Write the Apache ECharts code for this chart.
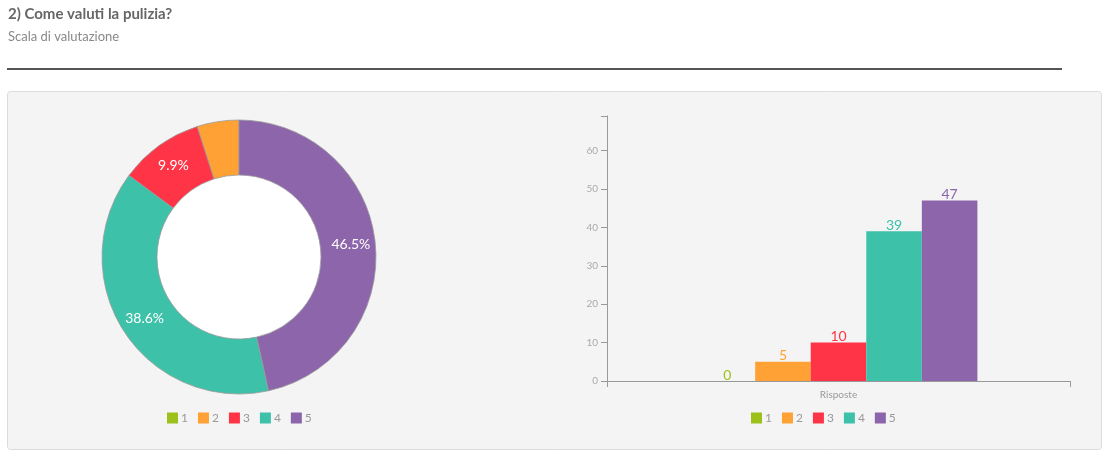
<!DOCTYPE html>
<html>
<head>
<meta charset="utf-8">
<script src="https://cdn.jsdelivr.net/npm/echarts@6/dist/echarts.min.js"></script>
<style>
html,body{margin:0;padding:0;background:#fff;}
#c{width:1120px;height:461px;}
</style>
</head>
<body>
<div id="c"></div>
<script>
const titleText = '2) Come valuti la pulizia?';
const subtitleText = 'Scala di valutazione';
const categories = ['1', '2', '3', '4', '5'];
const values = [0, 5, 10, 39, 47];
const colors = ['#9dc11b', '#ffa135', '#ff3547', '#3dc1a9', '#8d65aa'];
const barCategory = ['Risposte'];
const yMax = 69;

const FONT = 'Lato, "Open Sans", sans-serif';
const chart = echarts.init(document.getElementById('c'), null, {renderer: 'canvas'});

const pieData = categories.map((c, i) => ({name: c, value: values[i], itemStyle: {color: colors[i]}}));

const barSeries = categories.map((c, i) => ({
  name: c,
  type: 'bar',
  xAxisIndex: 0,
  yAxisIndex: 0,
  data: [values[i]],
  itemStyle: {color: colors[i]},
  barGap: '0%',
  barCategoryGap: '40%',
  label: {show: true, position: 'top', distance: -1, color: colors[i], fontSize: 14, fontFamily: FONT},
  emphasis: {disabled: true}
}));

const legendCommon = {
  data: categories, top: 407, itemWidth: 11, itemHeight: 11, itemGap: 10, icon: 'rect',
  textStyle: {fontSize: 12, color: '#999', fontFamily: FONT, padding: [0, 0, 0, -2]}
};

chart.setOption({
  animation: false,
  color: colors,
  textStyle: {fontFamily: FONT},
  title: {
    text: titleText,
    subtext: subtitleText,
    left: 3,
    top: 2,
    itemGap: 8,
    textStyle: {fontSize: 15, fontWeight: 'bold', color: '#666', fontFamily: FONT},
    subtextStyle: {fontSize: 13, color: '#888', fontFamily: FONT}
  },
  graphic: [
    {type: 'rect', z: -10, shape: {x: 7, y: 68, width: 1055, height: 2}, style: {fill: '#555'}},
    {type: 'rect', z: -10, shape: {x: 7.5, y: 91.5, width: 1094, height: 358, r: 3}, style: {fill: '#f4f4f4', stroke: '#dcdcdc', lineWidth: 1}}
  ],
  legend: [
    Object.assign({left: 162}, legendCommon),
    Object.assign({left: 746}, legendCommon)
  ],
  grid: [
    {left: 607, right: 50, top: 116, bottom: 80},
    {left: 607, right: 50, top: 116, bottom: 80}
  ],
  xAxis: [
    {
      type: 'category', gridIndex: 0, data: barCategory,
      axisLine: {lineStyle: {color: '#999', width: 1}},
      axisTick: {alignWithLabel: true, length: 6, lineStyle: {color: '#999'}},
      axisLabel: {fontSize: 10, color: '#999', margin: 9, fontFamily: FONT}
    },
    {
      type: 'value', gridIndex: 1, min: 0, max: 1, interval: 1,
      axisLine: {show: false},
      axisTick: {show: true, length: 6, lineStyle: {color: '#999'}},
      axisLabel: {show: false},
      splitLine: {show: false}
    }
  ],
  yAxis: [
    {
      type: 'value', gridIndex: 0, min: 0, max: yMax, interval: 10,
      axisLine: {show: true, lineStyle: {color: '#999'}},
      axisTick: {show: true, length: 6, lineStyle: {color: '#999'}},
      axisLabel: {fontSize: 10, color: '#aaa', margin: 9, showMaxLabel: false, fontFamily: FONT},
      splitLine: {show: false}
    },
    {
      type: 'value', gridIndex: 1, min: 0, max: 1, interval: 1,
      axisLine: {show: false},
      axisTick: {show: true, length: 6, lineStyle: {color: '#999'}},
      axisLabel: {show: false},
      splitLine: {show: false}
    }
  ],
  series: [
    {
      type: 'pie',
      silent: true,
      center: [239, 257],
      radius: [0, 82],
      label: {show: false},
      labelLine: {show: false},
      z: 1,
      data: [{name: '', value: 1, itemStyle: {color: '#fff'}}],
      legendHoverLink: false
    },
    {
      type: 'pie',
      center: [239, 257],
      radius: [82, 137],
      startAngle: 90,
      clockwise: false,
      avoidLabelOverlap: false,
      itemStyle: {borderColor: '#9a9a9a', borderWidth: 0.8},
      label: {
        show: true, position: 'inside', color: '#fff', fontSize: 14, fontFamily: FONT,
        formatter: p => (p.percent < 5 ? '' : p.percent.toFixed(1) + '%')
      },
      labelLine: {show: false},
      emphasis: {scale: false},
      data: pieData
    },
    ...barSeries
  ]
});
</script>
</body>
</html>
